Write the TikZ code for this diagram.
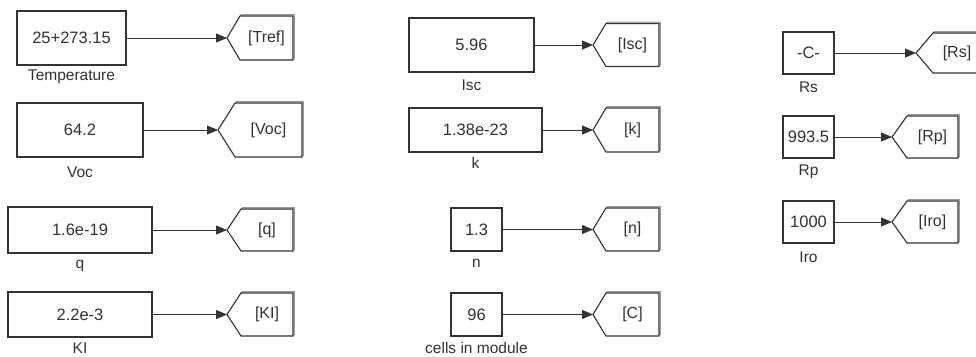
\documentclass[tikz,border=0pt]{standalone}
\usepackage{fontspec}
\setmainfont{Liberation Sans}
\usetikzlibrary{arrows.meta,shadows}
\definecolor{ink}{gray}{0.2}
\definecolor{shade}{gray}{0.6}
\newcommand{\gotag}[7]{%
  \coordinate (#1) at (#2,#5);
  \draw[tagshadow] (#2,#5) -- (#3,#5-#6) -- (#4,#5-#6) -- (#4,#5+#6) -- (#3,#5+#6) -- cycle;
  \draw[tagline] (#2,#5) -- (#3,#5-#6) -- (#4,#5-#6) -- (#4,#5+#6) -- (#3,#5+#6) -- cycle;
  \node[tagtext] (#1t) at ({(#3+#4)/2},#5) {#7};
}
\begin{document}
\begin{tikzpicture}[x=1pt,y=-1pt,
  cbox/.style={draw=ink, line width=1.1pt, fill=white, inner sep=0pt, outer sep=0pt,
    text=ink, font=\fontsize{16.5}{18}\selectfont,
    drop shadow={shadow xshift=1.4pt, shadow yshift=-1.4pt, fill=shade, opacity=1}},
  lbl/.style={text=ink, inner sep=0pt, font=\fontsize{15.5}{17}\selectfont},
  tagline/.style={draw=ink, line width=1.1pt, fill=white},
  tagshadow/.style={draw=shade, line width=1.1pt, shift={(1.4pt,1.4pt)}},
  tagtext/.style={text=ink, inner sep=0pt, font=\fontsize{16}{18}\selectfont},
  sig/.style={draw=ink, line width=0.8pt, -{Triangle[length=11pt,width=9pt]}}
]
\useasboundingbox (0,0) rectangle (976,356);
\fill[white] (0,0) rectangle (976,356);

% column 1
\node[cbox, minimum width=109pt, minimum height=54pt] (temp) at (71.5,38) {25+273.15};
\node[lbl] (tempL) at (71.5,77) {Temperature};
\gotag{tref}{227}{240}{293}{38}{22}{[Tref]}
\draw[sig] (temp.east) -- (tref);

\node[cbox, minimum width=126pt, minimum height=54pt] (voc) at (80,130) {64.2};
\node[lbl] (vocL) at (80,172) {Voc};
\gotag{vocT}{218}{235}{302}{130}{27}{[Voc]}
\draw[sig] (voc.east) -- (vocT);

\node[cbox, minimum width=144pt, minimum height=46pt] (q) at (80,230) {1.6e-19};
\node[lbl] (qL) at (80,266) {q};
\gotag{qT}{227}{241}{293}{230}{21}{[q]}
\draw[sig] (q.east) -- (qT);

\node[cbox, minimum width=144pt, minimum height=45pt] (kl) at (80,314.5) {2.2e-3};
\node[lbl] (klL) at (80,348) {KI};
\gotag{klT}{227}{241}{293}{314.5}{21.5}{[KI]}
\draw[sig] (kl.east) -- (klT);

% column 2
\node[cbox, minimum width=125pt, minimum height=54pt] (isc) at (471.5,45) {5.96};
\node[lbl] (iscL) at (471.5,85) {Isc};
\gotag{iscT}{593}{606}{659}{45}{21.5}{[Isc]}
\draw[sig] (isc.east) -- (iscT);

\node[cbox, minimum width=133pt, minimum height=44pt] (k) at (475.5,130) {1.38e-23};
\node[lbl] (kL) at (475.5,163) {k};
\gotag{kT}{593}{606}{659}{130}{22}{[k]}
\draw[sig] (k.east) -- (kT);

\node[cbox, minimum width=51pt, minimum height=43pt] (n) at (476.5,229.5) {1.3};
\node[lbl] (nL) at (476.5,263) {n};
\gotag{nT}{593}{606}{659}{229.5}{21.5}{[n]}
\draw[sig] (n.east) -- (nT);

\node[cbox, minimum width=51pt, minimum height=43pt] (cells) at (476.5,314.5) {96};
\node[lbl] (cellsL) at (476.5,348) {cells in module};
\gotag{cT}{593}{606}{659}{314.5}{21.5}{[C]}
\draw[sig] (cells.east) -- (cT);

% column 3
\node[cbox, minimum width=51pt, minimum height=42pt] (rs) at (808.5,53) {-C-};
\node[lbl] (rsL) at (808.5,87) {Rs};
\coordinate (rsT) at (916,53);
\draw[tagshadow] (977,33) -- (933,33) -- (916,53) -- (933,73) -- (977,73);
\draw[tagline] (977,33) -- (933,33) -- (916,53) -- (933,73) -- (977,73);
\node[tagtext] (rsTt) at (957,53) {[Rs]};
\draw[sig] (rs.east) -- (rsT);

\node[cbox, minimum width=51pt, minimum height=42pt] (rp) at (808.5,137) {993.5};
\node[lbl] (rpL) at (808.5,172) {Rp};
\gotag{rpT}{892}{907}{958}{137}{21}{[Rp]}
\draw[sig] (rp.east) -- (rpT);

\node[cbox, minimum width=51pt, minimum height=42pt] (iro) at (808.5,222) {1000};
\node[lbl] (iroL) at (808.5,257) {Iro};
\gotag{iroT}{892}{907}{958}{222}{21}{[Iro]}
\draw[sig] (iro.east) -- (iroT);
\end{tikzpicture}
\end{document}
